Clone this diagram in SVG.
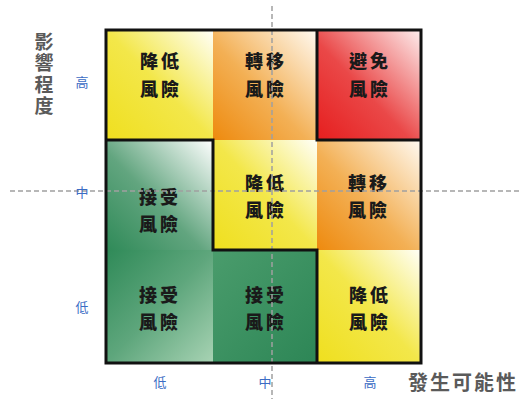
<svg xmlns="http://www.w3.org/2000/svg" width="520" height="399" viewBox="0 0 520 399">
<defs>
<linearGradient id="gy" x1="0" y1="1" x2="1" y2="0"><stop offset="0" stop-color="#efdf1e"/><stop offset="0.5" stop-color="#f3e74a"/><stop offset="1" stop-color="#fffff8"/></linearGradient>
<linearGradient id="go" x1="0" y1="1" x2="1" y2="0"><stop offset="0" stop-color="#ee8a0e"/><stop offset="0.45" stop-color="#f3b055"/><stop offset="1" stop-color="#fffaf2"/></linearGradient>
<linearGradient id="gr" x1="0" y1="1" x2="1" y2="0"><stop offset="0" stop-color="#e61e1e"/><stop offset="0.45" stop-color="#ea4848"/><stop offset="1" stop-color="#fdeeee"/></linearGradient>
<linearGradient id="gg1" x1="0" y1="1" x2="1" y2="0"><stop offset="0" stop-color="#2f8a58"/><stop offset="0.45" stop-color="#62a57f"/><stop offset="1" stop-color="#ffffff"/></linearGradient>
<linearGradient id="gg2" x1="0" y1="0" x2="1" y2="1"><stop offset="0" stop-color="#2f8a58"/><stop offset="0.5" stop-color="#5ea67c"/><stop offset="1" stop-color="#a8d3b4"/></linearGradient>
<linearGradient id="gg3" x1="0" y1="0" x2="1" y2="1"><stop offset="0" stop-color="#4a9c6c"/><stop offset="1" stop-color="#2d8656"/></linearGradient>
</defs>
<style>
.t{font-family:"Noto Sans CJK TC","Noto Sans CJK SC",sans-serif;font-size:18px;font-weight:900;fill:#1a1a1a;text-anchor:middle;letter-spacing:3px}
.ax{font-family:"Noto Sans CJK TC","Noto Sans CJK SC",serif;font-size:13px;fill:#3b6cc4;text-anchor:middle}
.ttl{font-family:"Noto Sans CJK TC","Noto Sans CJK SC",serif;font-size:20px;font-weight:700;fill:#5a5a5a;text-anchor:middle}
.vt{font-family:"Noto Sans CJK TC","Noto Sans CJK SC",serif;font-size:19px;font-weight:700;fill:#5a5a5a;writing-mode:vertical-rl;letter-spacing:2.5px}
.dash{stroke:#a0a0a0;stroke-width:1.5;stroke-dasharray:5 3;fill:none}
.bl{stroke:#111;stroke-width:3;fill:none;stroke-linejoin:miter}
</style>
<g id="cells">
<g id="c11"><rect x="106" y="30" width="107" height="110" fill="url(#gy)"/><text class="t" x="161" y="68">降低</text><text class="t" x="161" y="96">風險</text></g>
<g id="c12"><rect x="213" y="30" width="104" height="110" fill="url(#go)"/><text class="t" x="266" y="68">轉移</text><text class="t" x="266" y="96">風險</text></g>
<g id="c13"><rect x="317" y="30" width="104" height="110" fill="url(#gr)"/><text class="t" x="370" y="68">避免</text><text class="t" x="370" y="96">風險</text></g>
<g id="c21"><rect x="106" y="140" width="107" height="110" fill="url(#gg1)"/><text class="t" x="160" y="204">接受</text><text class="t" x="160" y="231">風險</text></g>
<g id="c22"><rect x="213" y="140" width="104" height="110" fill="url(#gy)"/><text class="t" x="266" y="190">降低</text><text class="t" x="266" y="217">風險</text></g>
<g id="c23"><rect x="317" y="140" width="104" height="110" fill="url(#go)"/><text class="t" x="369" y="190">轉移</text><text class="t" x="369" y="217">風險</text></g>
<g id="c31"><rect x="106" y="250" width="107" height="113" fill="url(#gg2)"/><text class="t" x="160" y="302">接受</text><text class="t" x="160" y="329">風險</text></g>
<g id="c32"><rect x="213" y="250" width="104" height="113" fill="url(#gg3)"/><text class="t" x="266" y="302">接受</text><text class="t" x="266" y="329">風險</text></g>
<g id="c33"><rect x="317" y="250" width="104" height="113" fill="url(#gy)"/><text class="t" x="370" y="302">降低</text><text class="t" x="370" y="329">風險</text></g>
</g>
<g id="connectors">
<line class="dash" x1="272" y1="6" x2="272" y2="399"/>
<line class="dash" x1="10" y1="191" x2="520" y2="191"/>
<rect class="bl" x="106" y="30" width="315" height="333"/>
<polyline class="bl" points="106,140 213,140 213,250 317,250 317,363"/>
<polyline class="bl" points="317,30 317,140 421,140"/>
</g>
<g id="axes">
<text class="ax" x="82" y="87">高</text>
<text class="ax" x="82" y="197">中</text>
<text class="ax" x="82" y="312">低</text>
<text class="ax" x="160" y="387">低</text>
<text class="ax" x="265" y="387">中</text>
<text class="ax" x="370" y="387">高</text>
<text class="vt" x="44" y="32">影響程度</text>
<text class="ttl" x="463" y="390" style="letter-spacing:2px">發生可能性</text>
</g>
</svg>
